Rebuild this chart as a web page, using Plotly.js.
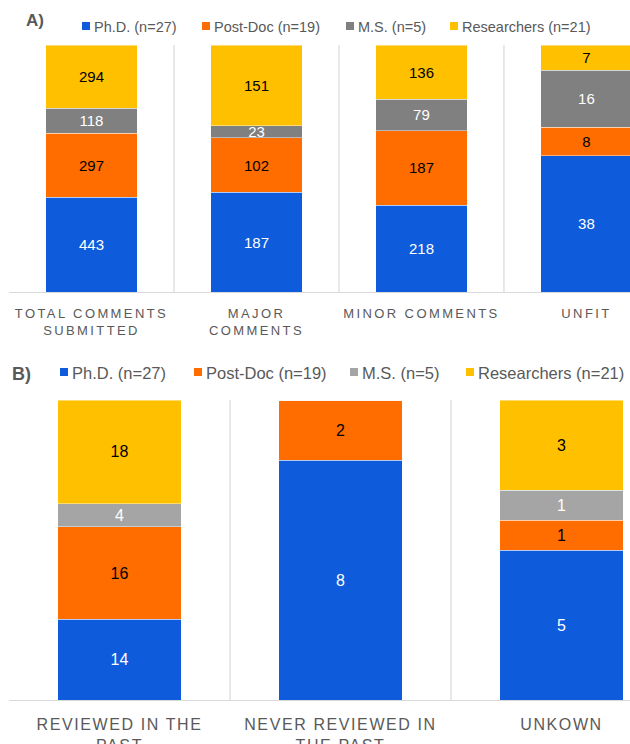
<!DOCTYPE html>
<html>
<head>
<meta charset="utf-8">
<script src="https://cdn.plot.ly/plotly-3.0.1.min.js"></script>
<style>
html,body{margin:0;padding:0;background:#fff;}
#chart{width:630px;height:744px;}
.xtick text{letter-spacing:2.4px;}
.x2tick text{letter-spacing:1.6px;}
</style>
</head>
<body>
<div id="chart"></div>
<script>
// ---- Data ----
const seriesNames = ["Ph.D. (n=27)", "Post-Doc (n=19)", "M.S. (n=5)", "Researchers (n=21)"];

const catsA = ["TOTAL COMMENTS<br>SUBMITTED", "MAJOR<br>COMMENTS", "MINOR COMMENTS", "UNFIT"];
const phdA = [443, 187, 218, 38];
const postdocA = [297, 102, 187, 8];
const msA = [118, 23, 79, 16];
const researchersA = [294, 151, 136, 7];

const catsB = ["REVIEWED IN THE<br>PAST", "NEVER REVIEWED IN<br>THE PAST", "UNKOWN"];
const phdB = [14, 8, 5];
const postdocB = [16, 2, 1];
const msB = [4, 0, 1];
const researchersB = [18, 0, 3];

// ---- Styles ----
const colorsA = ["#0E5BDB", "#FF6D00", "#808080", "#FFC000"];
const colorsB = ["#0E5BDB", "#FF6D00", "#A5A5A5", "#FFC000"];
const textColors = ["#FFFFFF", "#000000", "#FFFFFF", "#000000"];
const FONT = "Arial, 'Liberation Sans', sans-serif";
const W = 630, H = 744;

function mkTraces(cats, seriesVals, colors, xa, ya, fsize, width) {
  return seriesVals.map((vals, i) => ({
    type: "bar",
    name: seriesNames[i],
    x: cats,
    y: vals,
    xaxis: xa,
    yaxis: ya,
    width: width,
    text: vals.map(v => v > 0 ? String(v) : ""),
    textposition: "inside",
    insidetextanchor: "middle",
    constraintext: "none",
    textangle: 0,
    textfont: {family: FONT, size: fsize, color: textColors[i]},
    marker: {color: colors[i], line: {color: "rgba(255,255,255,0.55)", width: 0.8}},
    showlegend: false,
    hoverinfo: "x+y+name"
  }));
}

const data = [
  ...mkTraces(catsA, [phdA, postdocA, msA, researchersA], colorsA, "x", "y", 15, 0.552),
  ...mkTraces(catsB, [phdB, postdocB, msB, researchersB], colorsB, "x2", "y2", 16, 0.561)
];

// ---- Manual legends (squares + text) ----
const px = x => x / W;
const py = y => 1 - y / H;
const shapes = [];
const annotations = [];

function addLegend(xs, yc, sq, colors, fsize) {
  xs.forEach((x0, i) => {
    shapes.push({type: "rect", xref: "paper", yref: "paper",
      x0: px(x0), x1: px(x0 + sq), y0: py(yc + sq / 2), y1: py(yc - sq / 2),
      fillcolor: colors[i], line: {width: 0}});
    annotations.push({xref: "paper", yref: "paper", x: px(x0 + sq + 2), y: py(yc + 0.5),
      xanchor: "left", yanchor: "middle", showarrow: false, text: seriesNames[i],
      font: {family: FONT, size: fsize, color: "#595959"}});
  });
}
addLegend([82, 202, 346, 450], 26, 8, colorsA, 14.5);
addLegend([60, 194, 350, 466], 372, 8, colorsB, 16.5);

annotations.push({xref: "paper", yref: "paper", x: px(24), y: py(21), xanchor: "left", yanchor: "middle",
  showarrow: false, text: "<b>A)</b>", font: {family: FONT, size: 17, color: "#595959"}});
annotations.push({xref: "paper", yref: "paper", x: px(10), y: py(374), xanchor: "left", yanchor: "middle",
  showarrow: false, text: "<b>B)</b>", font: {family: FONT, size: 18, color: "#595959"}});

// Category dividers
[0.5, 1.5, 2.5].forEach(b => shapes.push({type: "line", xref: "x", yref: "y domain",
  x0: b, x1: b, y0: 0, y1: 1, line: {color: "#D9D9D9", width: 1.2}, layer: "below"}));
[0.5, 1.5].forEach(b => shapes.push({type: "line", xref: "x2", yref: "y2 domain",
  x0: b, x1: b, y0: 0, y1: 1, line: {color: "#D9D9D9", width: 1.2}, layer: "below"}));

const axX = {
  showgrid: false, zeroline: false, showline: true, linecolor: "#D9D9D9", linewidth: 1.2,
  ticks: "", tickangle: 0, fixedrange: true
};

const layout = {
  width: W, height: H,
  margin: {l: 0, r: 0, t: 0, b: 0},
  paper_bgcolor: "#FFFFFF", plot_bgcolor: "#FFFFFF",
  barmode: "stack", barnorm: "percent",
  showlegend: false,
  font: {family: FONT, color: "#595959"},
  xaxis: Object.assign({}, axX, {
    domain: [px(9), 1], anchor: "y", range: [-0.5, 3.264],
    tickfont: {family: FONT, size: 13, color: "#595959"}, ticklabelstandoff: 9
  }),
  yaxis: {domain: [py(292), py(45)], range: [0, 100], visible: false, anchor: "x", fixedrange: true},
  xaxis2: Object.assign({}, axX, {
    domain: [px(9), 1], anchor: "y2", range: [-0.5, 2.31],
    tickfont: {family: FONT, size: 16, color: "#595959"}, ticklabelstandoff: 10
  }),
  yaxis2: {domain: [py(700), py(400)], range: [0, 100], visible: false, anchor: "x2", fixedrange: true},
  shapes: shapes,
  annotations: annotations
};

Plotly.newPlot("chart", data, layout, {displayModeBar: false, staticPlot: true});
</script>
</body>
</html>
